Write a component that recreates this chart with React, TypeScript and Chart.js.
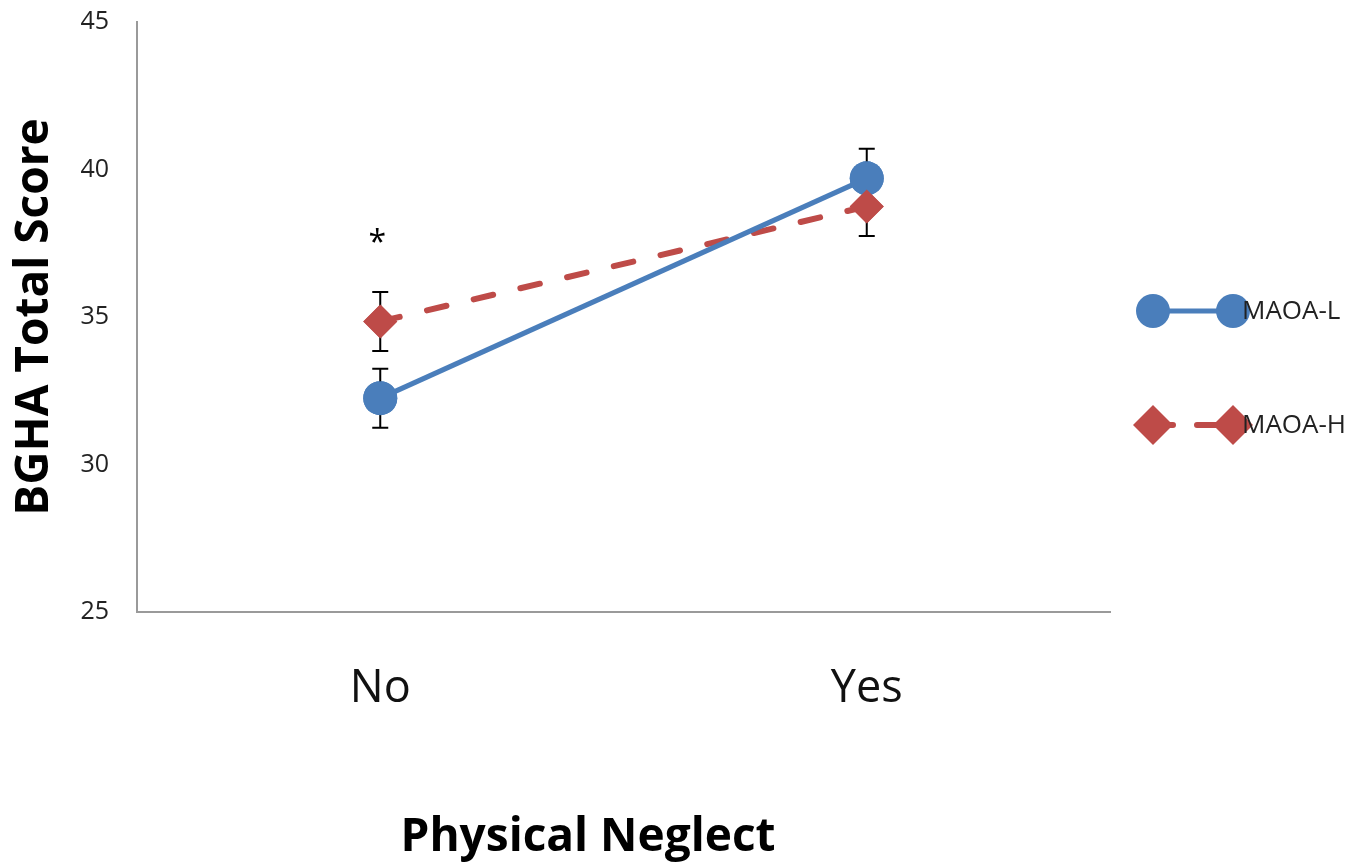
import React, { useEffect, useRef } from "react";
import { Chart, registerables } from "chart.js";

Chart.register(...registerables);

const categories = ["No", "Yes"];
const seriesNames = ["MAOA-L", "MAOA-H"];
const maoaL = [32.25, 39.7];
const maoaH = [34.85, 38.75];
const errL = [1.0, 1.0];
const errH = [1.0, 1.0];
const sigMarks = ["*", ""];
const sigValues = [37.6, 0];
const yTicks = [25, 30, 35, 40, 45];
const xTitle = "Physical Neglect";
const yTitle = "BGHA Total Score";

const BLUE = "#4A7EBB";
const RED = "#BE4B48";

const errorBarPlugin = {
  id: "errorBars",
  afterDatasetsDraw(chart: any) {
    const { ctx, scales } = chart;
    const x = scales.x;
    const y = scales.y;
    const errs = [errL, errH];
    ctx.save();
    ctx.strokeStyle = "#000";
    ctx.lineWidth = 2;
    chart.data.datasets.forEach((ds: any, di: number) => {
      ds.data.forEach((v: number, i: number) => {
        const e = errs[di][i];
        const px = x.getPixelForValue(i);
        const top = y.getPixelForValue(v + e);
        const bot = y.getPixelForValue(v - e);
        ctx.beginPath();
        ctx.moveTo(px, top);
        ctx.lineTo(px, bot);
        ctx.moveTo(px - 8, top);
        ctx.lineTo(px + 8, top);
        ctx.moveTo(px - 8, bot);
        ctx.lineTo(px + 8, bot);
        ctx.stroke();
      });
    });
    ctx.restore();
    chart.data.datasets.forEach((_ds: any, di: number) => {
      const meta = chart.getDatasetMeta(di);
      meta.data.forEach((pt: any) => pt.draw(ctx, chart.chartArea));
    });
    ctx.save();
    ctx.fillStyle = "#000";
    ctx.font = "32px 'Open Sans', sans-serif";
    ctx.textAlign = "center";
    ctx.textBaseline = "middle";
    sigMarks.forEach((m, i) => {
      if (!m) return;
      ctx.fillText(m, x.getPixelForValue(i) - 3, y.getPixelForValue(sigValues[i]) + 4);
    });
    ctx.restore();
  },
};

const xTitlePlugin = {
  id: "xTitle",
  afterDraw(chart: any) {
    const { ctx } = chart;
    ctx.save();
    ctx.fillStyle = "#000";
    ctx.font = "bold 46px 'Open Sans', sans-serif";
    ctx.textAlign = "center";
    ctx.textBaseline = "alphabetic";
    ctx.fillText(xTitle, 588, 851);
    ctx.restore();
  },
};

const legendPlugin = {
  id: "customLegend",
  afterDraw(chart: any) {
    const { ctx } = chart;
    const rows = [311, 425];
    ctx.save();
    chart.data.datasets.forEach((ds: any, di: number) => {
      const yy = rows[di];
      const x1 = 1153;
      const x2 = 1233;
      ctx.strokeStyle = ds.borderColor;
      ctx.lineWidth = ds.borderWidth;
      ctx.lineCap = ds.borderCapStyle || "butt";
      ctx.setLineDash(ds.borderDash ? [20, 24] : []);
      ctx.beginPath();
      ctx.moveTo(x1, yy);
      ctx.lineTo(x2, yy);
      ctx.stroke();
      ctx.setLineDash([]);
      ctx.fillStyle = ds.pointBackgroundColor;
      [x1, x2].forEach((xx) => {
        ctx.beginPath();
        if (ds.pointStyle === "rectRot") {
          const r = ds.pointRadius + 3;
          ctx.moveTo(xx, yy - r);
          ctx.lineTo(xx + r, yy);
          ctx.lineTo(xx, yy + r);
          ctx.lineTo(xx - r, yy);
          ctx.closePath();
        } else {
          ctx.arc(xx, yy, ds.pointRadius, 0, Math.PI * 2);
        }
        ctx.fill();
      });
      ctx.fillStyle = "#222";
      ctx.font = "26px 'Open Sans', sans-serif";
      ctx.textAlign = "left";
      ctx.textBaseline = "middle";
      ctx.fillText(ds.label, 1242, yy + 1);
    });
    ctx.restore();
  },
};

export default function App() {
  const ref = useRef<HTMLCanvasElement | null>(null);
  useEffect(() => {
    document.body.style.margin = "0";
    const chart = new Chart(ref.current as HTMLCanvasElement, {
      type: "line",
      data: {
        labels: categories,
        datasets: [
          {
            label: seriesNames[0],
            data: maoaL,
            borderColor: BLUE,
            backgroundColor: BLUE,
            pointBackgroundColor: BLUE,
            pointBorderColor: BLUE,
            borderWidth: 5,
            pointStyle: "circle",
            pointRadius: 17,
            pointBorderWidth: 0,
            fill: false,
          },
          {
            label: seriesNames[1],
            data: maoaH,
            borderColor: RED,
            backgroundColor: RED,
            pointBackgroundColor: RED,
            pointBorderColor: RED,
            borderWidth: 6,
            borderDash: [20, 28],
            borderCapStyle: "round",
            pointStyle: "rectRot",
            pointRadius: 17,
            pointBorderWidth: 0,
            fill: false,
          },
        ],
      },
      options: {
        animation: false,
        responsive: true,
        maintainAspectRatio: false,
        layout: { padding: { top: 22, right: 258, left: 0, bottom: 0 } },
        plugins: {
          legend: { display: false },
          tooltip: { enabled: false },
        },
        scales: {
          x: {
            type: "category",
            offset: true,
            grid: { display: false, drawTicks: false },
            border: { display: true, color: "#9a9a9a", width: 2 },
            ticks: {
              color: "#111",
              font: { family: "'Open Sans', sans-serif", size: 45 },
              padding: 50,
            },
            afterFit(scale: any) {
              scale.height = 255;
              scale.paddingLeft = 0;
              scale.paddingRight = 0;
            },
          },
          y: {
            min: 25,
            max: 45,
            grid: { display: false, drawTicks: false },
            border: { display: true, color: "#9a9a9a", width: 2 },
            afterBuildTicks(scale: any) {
              scale.ticks = yTicks.map((v) => ({ value: v }));
            },
            ticks: {
              color: "#222",
              font: { family: "'Open Sans', sans-serif", size: 25 },
              padding: 28,
            },
            title: {
              display: true,
              text: yTitle,
              color: "#000",
              font: { family: "'Open Sans', sans-serif", size: 46, weight: "bold" },
              padding: { top: 7, bottom: 0 },
            },
            afterFit(scale: any) {
              scale.width = 137;
              scale.paddingTop = 0;
              scale.paddingBottom = 0;
            },
          },
        },
      },
      plugins: [errorBarPlugin, legendPlugin, xTitlePlugin],
    } as any);
    return () => chart.destroy();
  }, []);
  return (
    <div style={{ position: "absolute", left: 0, top: 0, width: 1368, height: 867 }}>
      <canvas ref={ref} />
    </div>
  );
}
